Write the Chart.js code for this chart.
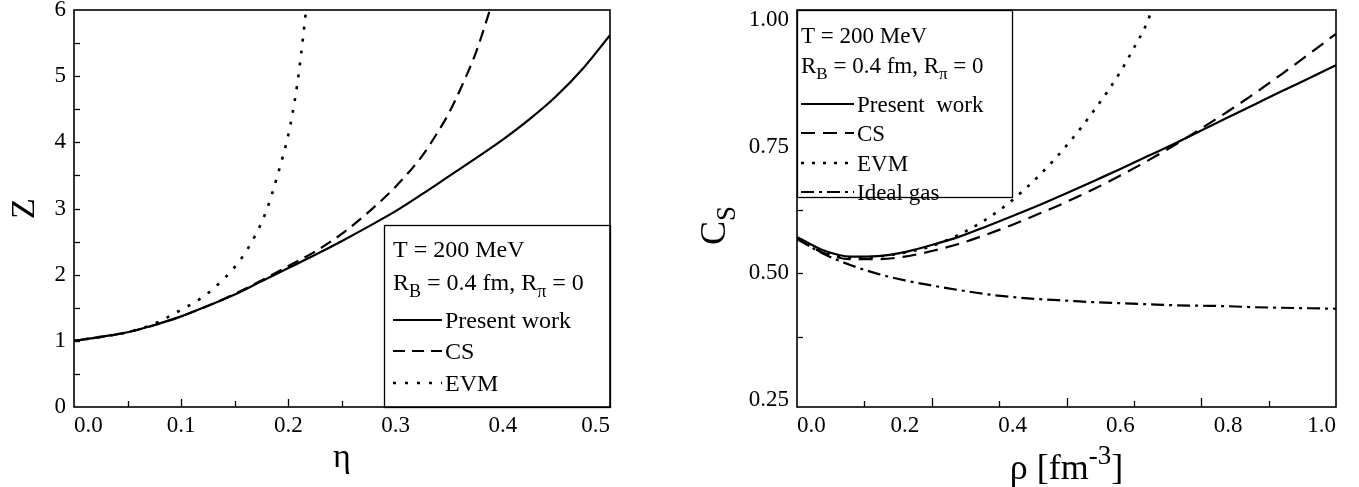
<!DOCTYPE html>
<html>
<head>
<meta charset="utf-8">
<script src="https://cdn.jsdelivr.net/npm/chart.js@4.4.1/dist/chart.umd.min.js"></script>
<style>
  html, body { margin: 0; padding: 0; background: #fff; }
  #left  { position: absolute; left: 0;     top: 0; width: 620px; height: 487px; }
  #right { position: absolute; left: 690px; top: 0; width: 669px; height: 487px; }
</style>
</head>
<body>
<div id="left"><canvas id="zChart"></canvas></div>
<div id="right"><canvas id="csChart"></canvas></div>
<script>
// left panel: Z vs eta
const etaPresent = [0, 0.025, 0.05, 0.075, 0.1, 0.125, 0.15, 0.175, 0.2, 0.225, 0.25, 0.275, 0.3, 0.325, 0.35, 0.375, 0.4, 0.425, 0.45, 0.475, 0.5];
const zPresent   = [1.00, 1.06, 1.13, 1.24, 1.37, 1.53, 1.70, 1.90, 2.10, 2.30, 2.51, 2.73, 2.96, 3.22, 3.49, 3.76, 4.04, 4.35, 4.70, 5.12, 5.62];
const etaCS = [0, 0.05, 0.1, 0.15, 0.2, 0.225, 0.25, 0.275, 0.3, 0.325, 0.338, 0.35, 0.362, 0.375, 0.388];
const zCS   = [1.00, 1.13, 1.37, 1.71, 2.13, 2.35, 2.62, 2.95, 3.33, 3.80, 4.12, 4.45, 4.86, 5.36, 6.00];
const etaEVM = [0, 0.025, 0.05, 0.075, 0.1, 0.12, 0.14, 0.155, 0.17, 0.18, 0.19, 0.2, 0.204, 0.208, 0.212, 0.2165];
const zEVM   = [1.00, 1.06, 1.13, 1.26, 1.47, 1.66, 1.94, 2.22, 2.62, 2.99, 3.51, 4.12, 4.45, 4.85, 5.35, 6.00];
const etaTicks = [0, 0.1, 0.2, 0.3, 0.4, 0.5];
const zTicks = [0, 1, 2, 3, 4, 5, 6];

// right panel: speed of sound vs baryon density
const rho = [0, 0.05, 0.1, 0.15, 0.2, 0.25, 0.3, 0.35, 0.4, 0.45, 0.5, 0.55, 0.6, 0.65, 0.7, 0.75, 0.8, 0.85, 0.9, 0.95, 1.0];
const csPresent = [0.572, 0.545, 0.533, 0.534, 0.542, 0.556, 0.572, 0.592, 0.613, 0.635, 0.658, 0.682, 0.706, 0.731, 0.756, 0.782, 0.808, 0.834, 0.860, 0.885, 0.911];
const csCS      = [0.568, 0.540, 0.528, 0.528, 0.533, 0.544, 0.558, 0.576, 0.596, 0.618, 0.641, 0.666, 0.693, 0.722, 0.753, 0.786, 0.820, 0.856, 0.894, 0.933, 0.973];
const csIdeal   = [0.568, 0.538, 0.516, 0.499, 0.486, 0.476, 0.467, 0.459, 0.453, 0.449, 0.446, 0.443, 0.441, 0.439, 0.437, 0.436, 0.435, 0.433, 0.432, 0.431, 0.430];
const rhoEVM = [0, 0.05, 0.1, 0.15, 0.2, 0.25, 0.3, 0.35, 0.4, 0.45, 0.5, 0.55, 0.6, 0.625, 0.65, 0.658];
const csEVM  = [0.568, 0.541, 0.531, 0.533, 0.541, 0.554, 0.576, 0.606, 0.645, 0.694, 0.752, 0.820, 0.898, 0.945, 0.996, 1.02];
const rhoTicks = [0, 0.2, 0.4, 0.6, 0.8, 1.0];
const csTicks = [0.25, 0.5, 0.75, 1.0];

const FONT = 'Liberation Serif';
Chart.defaults.font.family = FONT;
Chart.defaults.color = '#000';

const pts = (xs, ys) => xs.map((x, i) => ({ x: x, y: ys[i] }));

function line(label, data, dash, width) {
  return {
    label: label, data: data,
    borderColor: '#000', borderWidth: width || 2.2, borderDash: dash,
    pointRadius: 0, fill: false, cubicInterpolationMode: 'monotone'
  };
}

// text with sub/superscripts, y is the baseline
function drawRich(ctx, segs, x, y, size, align) {
  const fontOf = s => (s.sub || s.sup ? Math.round(size * 0.75) : size) + 'px "' + FONT + '"';
  let w = 0;
  segs.forEach(s => { ctx.font = fontOf(s); w += ctx.measureText(s.t).width; });
  let cx = align === 'center' ? x - w / 2 : x;
  ctx.textAlign = 'left';
  ctx.textBaseline = 'alphabetic';
  segs.forEach(s => {
    ctx.font = fontOf(s);
    const dy = s.sub ? size * 0.28 : (s.sup ? -size * 0.42 : 0);
    ctx.fillText(s.t, cx, y + dy);
    cx += ctx.measureText(s.t).width;
  });
}

function decor(cfg) {
  return {
    id: 'decor',
    afterDatasetsDraw(chart) {
      const { ctx, chartArea: a } = chart;
      const xs = chart.scales.x, ys = chart.scales.y;
      ctx.save();
      ctx.fillStyle = '#000';
      ctx.strokeStyle = '#000';
      ctx.setLineDash([]);

      // inward tick marks
      ctx.lineWidth = 1.3;
      cfg.xMarks.forEach(m => {
        const px = Math.round(xs.getPixelForValue(m[0])) + 0.5;
        ctx.beginPath(); ctx.moveTo(px, a.bottom); ctx.lineTo(px, a.bottom - m[1]); ctx.stroke();
      });
      cfg.yMarks.forEach(m => {
        const py = Math.round(ys.getPixelForValue(m[0])) + 0.5;
        ctx.beginPath(); ctx.moveTo(a.left, py); ctx.lineTo(a.left + m[1], py); ctx.stroke();
      });

      // legend box
      const L = cfg.legend;
      const bx = L.right ? a.right - L.w : a.left;
      const by = L.bottom ? a.bottom - L.h : a.top;
      ctx.fillStyle = '#fff';
      ctx.fillRect(bx, by, L.w, L.h);
      ctx.fillStyle = '#000';
      ctx.lineWidth = 1.3;
      ctx.strokeRect(bx + 0.5, by + 0.5, L.w, L.h);
      L.rows.forEach(r => {
        const base = by + r.y;
        if (r.ds !== undefined) {
          const ds = chart.data.datasets[r.ds];
          ctx.save();
          ctx.lineWidth = ds.borderWidth;
          ctx.setLineDash(ds.borderDash || []);
          ctx.beginPath();
          ctx.moveTo(bx + L.pad, base - 8);
          ctx.lineTo(bx + L.pad + L.sample, base - 8);
          ctx.stroke();
          ctx.restore();
          drawRich(ctx, [{ t: ds.label }], bx + L.pad + L.sample + 3, base, L.size, 'left');
        } else {
          drawRich(ctx, r.segs, bx + L.pad, base, L.size, 'left');
        }
      });

      // frame
      ctx.lineWidth = 1.6;
      ctx.strokeRect(a.left, a.top, a.right - a.left, a.bottom - a.top);

      // axis titles
      const cxMid = (a.left + a.right) / 2;
      drawRich(ctx, cfg.xTitle, cxMid, a.bottom + cfg.xTitleDy, cfg.titleSize, 'center');
      ctx.save();
      ctx.translate(a.left - cfg.yTitleDx, (a.top + a.bottom) / 2 + cfg.yTitleDy);
      ctx.rotate(-Math.PI / 2);
      drawRich(ctx, cfg.yTitle, 0, 0, cfg.titleSize, 'center');
      ctx.restore();
      ctx.restore();
    }
  };
}

function axes(xMin, xMax, xTickVals, xDigits, yMin, yMax, yTickVals, yDigits, yWidth) {
  const tickFont = { family: FONT, size: 23 };
  const noPad = s => { s.paddingTop = 0; s.paddingBottom = 0; s.paddingLeft = 0; s.paddingRight = 0; };
  return {
    x: {
      type: 'linear', min: xMin, max: xMax,
      grid: { display: false, drawTicks: false }, border: { display: false },
      afterBuildTicks: s => { s.ticks = xTickVals.map(v => ({ value: v })); },
      afterFit: s => { s.height = 80; noPad(s); },
      ticks: { align: 'inner', padding: 5, autoSkip: false, maxRotation: 0, font: tickFont, color: '#000',
               callback: v => Number(v).toFixed(xDigits) }
    },
    y: {
      type: 'linear', min: yMin, max: yMax,
      grid: { display: false, drawTicks: false }, border: { display: false },
      afterBuildTicks: s => { s.ticks = yTickVals.map(v => ({ value: v })); },
      afterFit: s => { s.width = yWidth; noPad(s); },
      ticks: { padding: 8, autoSkip: false, font: tickFont, color: '#000',
               callback: v => Number(v).toFixed(yDigits) }
    }
  };
}

const baseOpts = {
  responsive: true, maintainAspectRatio: false, animation: false,
  plugins: { legend: { display: false }, tooltip: { enabled: false } }
};

// tick marks (value, length)
const leftXMarks = [], leftYMarks = [], rightXMarks = [], rightYMarks = [];
for (let i = 1; i < 10; i++) leftXMarks.push([i * 0.05, i % 2 ? 6 : 8]);
for (let i = 1; i < 12; i++) leftYMarks.push([i * 0.5, 6]);
for (let i = 1; i < 8; i++) rightXMarks.push([i * 0.125, i % 2 ? 6 : 9]);
for (let i = 3; i < 8; i++) rightYMarks.push([i * 0.125, 6]);

const RB = [{ t: 'R' }, { t: 'B', sub: true }, { t: ' = 0.4 fm, R' }, { t: 'π', sub: true }, { t: ' = 0' }];

new Chart(document.getElementById('zChart'), {
  type: 'line',
  data: {
    datasets: [
      line('Present work', pts(etaPresent, zPresent), [], 2.2),
      line('CS', pts(etaCS, zCS), [12, 7], 2.2),
      line('EVM', pts(etaEVM, zEVM), [3, 9], 2.6)
    ]
  },
  options: Object.assign({}, baseOpts, {
    layout: { padding: { top: 10, right: 10, left: 0, bottom: 0 } },
    scales: axes(0, 0.5, etaTicks, 1, 0, 6, zTicks, 0, 74)
  }),
  plugins: [decor({
    xMarks: leftXMarks, yMarks: leftYMarks,
    xTitle: [{ t: 'η' }], xTitleDy: 60,
    yTitle: [{ t: 'Z' }], yTitleDx: 40, yTitleDy: 0,
    titleSize: 34,
    legend: {
      right: true, bottom: true, w: 226, h: 182, pad: 9, sample: 49, size: 24,
      rows: [
        { y: 32, segs: [{ t: 'T = 200 MeV' }] },
        { y: 65, segs: RB },
        { y: 103, ds: 0 },
        { y: 134, ds: 1 },
        { y: 166, ds: 2 }
      ]
    }
  })]
});

new Chart(document.getElementById('csChart'), {
  type: 'line',
  data: {
    datasets: [
      line('Present  work', pts(rho, csPresent), [], 2.2),
      line('CS', pts(rho, csCS), [14, 8], 2.2),
      line('EVM', pts(rhoEVM, csEVM), [3, 8], 2.6),
      line('Ideal gas', pts(rho, csIdeal), [13, 5, 3, 5], 2.2)
    ]
  },
  options: Object.assign({}, baseOpts, {
    layout: { padding: { top: 10, right: 23, left: 0, bottom: 0 } },
    scales: axes(0, 1, rhoTicks, 1, 0.236, 1.02, csTicks, 2, 107)
  }),
  plugins: [decor({
    xMarks: rightXMarks, yMarks: rightYMarks,
    xTitle: [{ t: 'ρ [fm' }, { t: '-3', sup: true }, { t: ']' }], xTitleDy: 72,
    yTitle: [{ t: 'C' }, { t: 'S', sub: true }], yTitleDx: 72, yTitleDy: 17,
    titleSize: 36,
    legend: {
      right: false, bottom: false, w: 215, h: 187, pad: 4, sample: 53, size: 23,
      rows: [
        { y: 33, segs: [{ t: 'T = 200 MeV' }] },
        { y: 63, segs: RB },
        { y: 102, ds: 0 },
        { y: 131, ds: 1 },
        { y: 161, ds: 2 },
        { y: 190, ds: 3 }
      ]
    }
  })]
});
</script>
</body>
</html>
